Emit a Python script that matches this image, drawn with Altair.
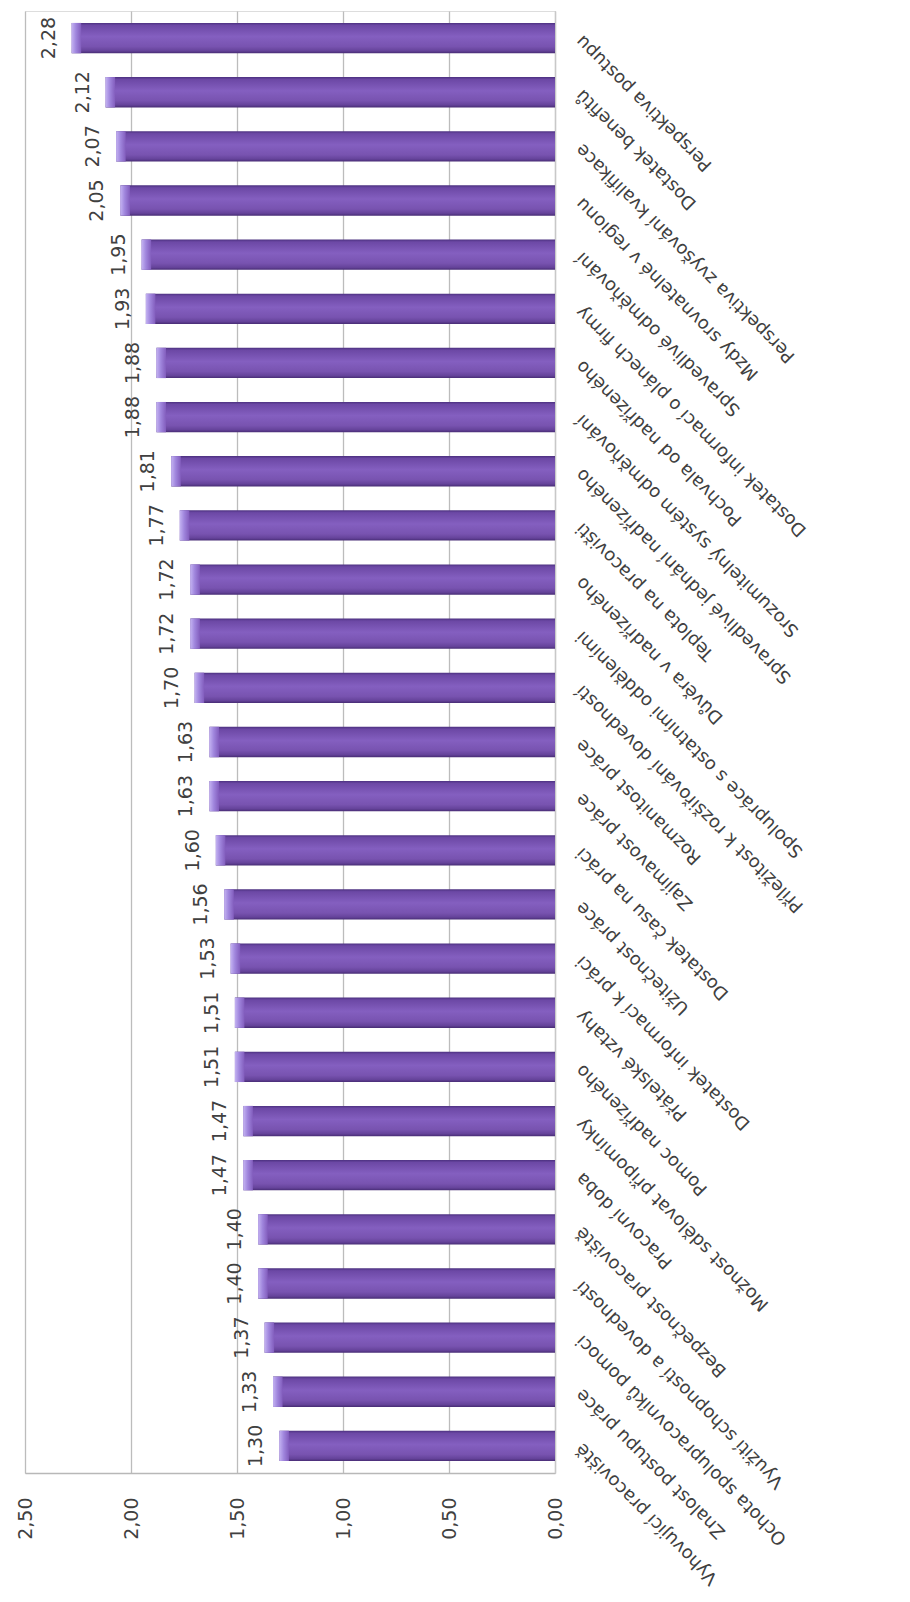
import altair as alt
import pandas as pd

categories = [
    "Perspektiva postupu", "Dostatek benefitů", "Perspektiva zvyšování kvalifikace",
    "Mzdy srovnatelné v regionu", "Spravedlivé odměňování",
    "Dostatek informací o plánech firmy", "Pochvala od nadřízeného",
    "Srozumitelný systém odměňování", "Spravedlivé jednání nadřízeného",
    "Teplota na pracovišti", "Důvěra v nadřízeného",
    "Spolupráce s ostatními odděleními", "Příležitost k rozšiřování dovedností",
    "Rozmanitost práce", "Zajímavost práce", "Dostatek času na práci",
    "Užitečnost práce", "Dostatek informací k práci", "Přátelské vztahy",
    "Pomoc nadřízeného", "Možnost sdělovat připomínky", "Pracovní doba",
    "Bezpečnost pracoviště", "Využití schopností a dovedností",
    "Ochota spolupracovníků pomoci", "Znalost postupu práce", "Vyhovující pracoviště",
]
values = [2.28, 2.12, 2.07, 2.05, 1.95, 1.93, 1.88, 1.88, 1.81, 1.77, 1.72, 1.72,
          1.70, 1.63, 1.63, 1.60, 1.56, 1.53, 1.51, 1.51, 1.47, 1.47, 1.40, 1.40,
          1.37, 1.33, 1.30]
tick_values = [0.0, 0.5, 1.0, 1.5, 2.0, 2.5]

df = pd.DataFrame({"cat": categories, "value": values})
df["label"] = [f"{v:.2f}".replace(".", ",") for v in values]

FONT = "DejaVu Sans"
TXT = "#404040"

x_enc = alt.X(
    "value:Q",
    scale=alt.Scale(domain=[0, 2.5], reverse=True, nice=False, zero=True),
    axis=alt.Axis(
        values=tick_values, title=None,
        labelExpr="replace(format(datum.value, '.2f'), '.', ',')",
        labelAngle=270, labelAlign="right", labelBaseline="middle",
        labelPadding=24, labelFlush=False, ticks=False,
        grid=True, gridColor="#bcbcbc", gridWidth=1.3,
        domainColor="#b8b8b8", domainWidth=1.3,
        labelFont=FONT, labelFontSize=19, labelColor=TXT,
    ),
)
y_enc = alt.Y(
    "cat:N", sort=categories,
    scale=alt.Scale(paddingInner=0.44, paddingOuter=0.22),
    axis=alt.Axis(
        orient="right", title=None, labelAngle=225, labelAlign="right",
        labelBaseline="middle", labelPadding=24, ticks=False,
        domain=True, domainColor="#c8c8c8", domainWidth=1.3,
        labelFont=FONT, labelFontSize=18, labelColor=TXT,
        labelLimit=2000, labelOverlap=False, grid=False,
    ),
)

base = alt.Chart(df)

bars = base.mark_bar(
    color=alt.Gradient(
        gradient="linear", x1=0, y1=0, x2=0, y2=1,
        stops=[
            alt.GradientStop(color="#4c3180", offset=0),
            alt.GradientStop(color="#6c48a5", offset=0.08),
            alt.GradientStop(color="#845fc0", offset=0.45),
            alt.GradientStop(color="#7853b0", offset=0.78),
            alt.GradientStop(color="#65439a", offset=0.92),
            alt.GradientStop(color="#472c74", offset=1),
        ],
    )
).encode(x=x_enc, y=y_enc)

cap = base.transform_calculate(capend="datum.value - 0.045").mark_bar(
    color=alt.Gradient(
        gradient="linear", x1=0, y1=0, x2=1, y2=0,
        stops=[
            alt.GradientStop(color="#c4b3f2", offset=0),
            alt.GradientStop(color="#a086dd", offset=0.45),
            alt.GradientStop(color="#825dbd", offset=1),
        ],
    )
).encode(x="value:Q", x2="capend:Q", y=alt.Y("cat:N", sort=categories))

labels = base.mark_text(
    angle=270, align="center", baseline="alphabetic", xOffset=-17,
    font=FONT, fontSize=19, color=TXT,
).encode(x="value:Q", y=alt.Y("cat:N", sort=categories), text="label:N")

chart = alt.layer(bars, cap, labels).properties(
    width=530, height=1462,
    autosize=alt.AutoSizeParams(type="none"),
    padding={"left": 17, "top": 3, "right": 347, "bottom": 128},
).configure_view(strokeWidth=0).configure(background="white")

chart.save("out.html", embed_options={"renderer": "svg", "actions": False})
